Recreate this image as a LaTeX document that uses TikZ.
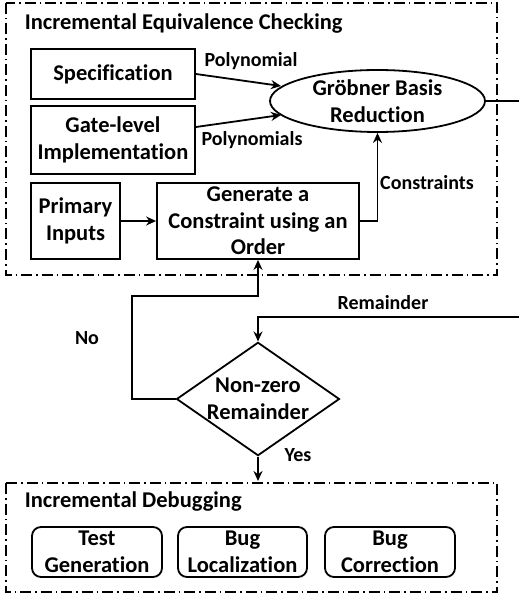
\documentclass[tikz,border=0pt]{standalone}
\usepackage{fontspec}
\setmainfont{Carlito}[Ligatures=NoCommon]
\usetikzlibrary{shapes.geometric,arrows.meta}
\begin{document}
\begin{tikzpicture}[x=1pt,y=-1pt,
  font=\bfseries\fontsize{22.5}{26.7}\selectfont,
  line width=1.8pt,
  groupbox/.style={draw,line width=1.2pt,dash pattern=on 11pt off 4pt on 1.5pt off 4pt},
  block/.style={draw,align=center,inner sep=0pt},
  roundblock/.style={draw,rounded corners=9pt,align=center,inner sep=0pt},
  lbl/.style={font=\bfseries\fontsize{20}{24}\selectfont},
  arr/.style={-{Stealth[length=10pt,width=9pt]}},
]
\useasboundingbox (0,0) rectangle (519,601);

% group frames
\draw[groupbox] (6,3) rectangle (497,275);
\draw[groupbox] (6,483) rectangle (497,592);
\node[anchor=west,inner sep=0pt] (t1) at (24,24) {Incremental Equivalence Checking};
\node[anchor=west,inner sep=0pt] (t2) at (24,502) {Incremental Debugging};

% equivalence checking blocks
\node[block,minimum width=164pt,minimum height=50pt] (spec) at (113,74) {Specification};
\node[block,minimum width=164pt,minimum height=68pt] (gate) at (113,140) {Gate-level\\Implementation};
\node[block,minimum width=89pt,minimum height=76pt] (pi) at (75.5,221) {Primary\\Inputs};
\node[block,minimum width=202pt,minimum height=76pt] (gen) at (258,221) {Generate a\\Constraint using an\\Order};
\node[draw,ellipse,inner sep=0pt,minimum width=215pt,minimum height=62pt,align=center] (gb) at (377.5,101) {Gröbner Basis\\Reduction};

\draw[arr] (spec.east) -- (281,86);
\node[lbl] (poly) at (251,61) {Polynomial};
\draw[arr] (gate.east |- 0,127) coordinate (ge) -- (281,115);
\node[lbl] (plys) at (252,140) {Polynomials};
\draw[arr] (pi) -- (gen);
\draw[arr] (gen.east) -| (gb.south);
\node[lbl] (cons) at (427,183) {Constraints};

% remainder path and decision
\coordinate (rout) at (519,101);
\draw (gb.east) -- (rout);
\coordinate (rin) at (519,317);
\node[draw,diamond,aspect=1.42,inner sep=0pt,minimum width=163pt,minimum height=113pt,align=center] (dec) at (258,399) {Non-zero\\Remainder};
\draw[arr] (rin) -- (258,317) -- (dec.north);
\node[lbl] (rem) at (383,303) {Remainder};

\draw[arr] (dec.west) -- (132,399) -- (132,296) -- (258,296) -- (gen.south);
\node[lbl] (no) at (87,338) {No};

\coordinate (dbg) at (258,481);
\draw[arr] (dec.south) -- (dbg);
\node[lbl] (yes) at (298,455) {Yes};

% debugging blocks
\node[roundblock,minimum width=130pt,minimum height=50pt] (tg) at (97,552) {Test\\Generation};
\node[roundblock,minimum width=129pt,minimum height=50pt] (bl) at (242.5,552) {Bug\\Localization};
\node[roundblock,minimum width=130pt,minimum height=50pt] (bc) at (390,552) {Bug\\Correction};
\end{tikzpicture}
\end{document}
